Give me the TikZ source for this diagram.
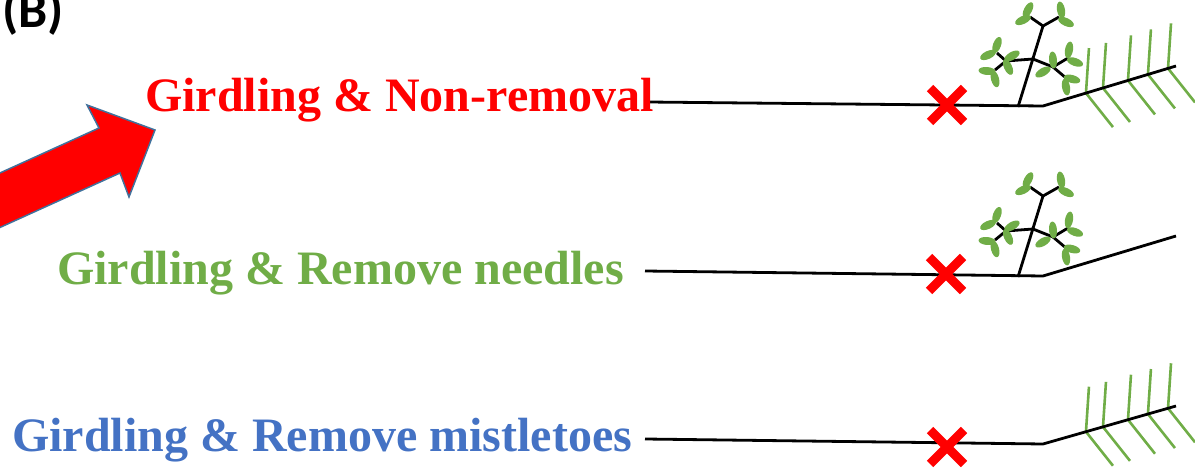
\documentclass[tikz,border=0pt]{standalone}
\usepackage{fontspec}
\setmainfont{Liberation Serif}
\newfontfamily\panelfont{Carlito}
\usetikzlibrary{calc}

\definecolor{leafgreen}{RGB}{112,173,71}
\definecolor{treatblue}{RGB}{68,114,196}
\definecolor{arrowedge}{RGB}{65,113,156}

\tikzset{
  branch/.style={black, line width=2.8pt},
  needle/.style={leafgreen, line width=2.6pt},
  leaf/.style={fill=leafgreen},
  girdle/.style={red, line width=9pt},
  treat/.style={anchor=base west, inner sep=0pt, font=\fontsize{48}{52}\selectfont\bfseries},
}

% mistletoe tuft standing on the branch at (1018,106)
\newcommand{\mistletoe}{%
  \draw[branch] (1018,107) -- (1043,26);
  \draw[branch] (1030,17) -- (1043,26) -- (1059,17);
  \draw[branch] (1006,61) -- (1033,59) -- (1053,67);
  \draw[branch] (997,53) -- (1006,61) -- (995,70);
  \draw[branch] (1068,58) -- (1053,67) -- (1066,78);
  \foreach \cx/\cy/\a in {1028/10/62, 1023/20/25, 1061/10/-80, 1066/22/-25,
                          997/45/70, 988/55/25, 1012/56/30, 1008/67/-65, 987/71/-5, 995/79/-75,
                          1053/60/-85, 1043/72/30, 1069/50/80, 1075/62/-20, 1072/79/-15, 1066/87/-80}
    \fill[leaf] (\cx,\cy) ellipse[x radius=8.5, y radius=4, rotate=\a];
}

% needles along the tip of the branch, J = bend, E = tip
\newcommand{\needles}{%
  \foreach \t in {0.323,0.451,0.639,0.789,0.94}
    \draw[needle] ($(J)!\t!(E)$) +(3,-45) -- +(0,0) -- +(27,34);
}

\begin{document}
\begin{tikzpicture}[x=1pt,y=-1pt]
\useasboundingbox (0,0) rectangle (1195,473);
\clip (0,0) rectangle (1195,473);

\node[anchor=base west, inner sep=0pt, font=\panelfont\fontsize{52}{56}\selectfont\bfseries] (panel) at (2,28) {(B)};

% big arrow into the first treatment
\draw[fill=red, draw=arrowedge, line width=1.5pt, line join=miter]
  (-10,177.5) -- (99,128) -- (87,105) -- (155,130) -- (129,197) -- (120,173) -- (-10,232) -- cycle;

% row 1: girdled, nothing removed
\coordinate (S) at (648,102);
\coordinate (J) at (1043,106);
\coordinate (E) at (1176,66);
\needles
\draw[branch] (S) -- (J) -- (E);
\mistletoe
\draw[girdle] (930,88) -- (964,122) (930,122) -- (964,88);
\node[treat, text=red] (lblRemain) at (145,111.7) {Girdling \& Non-removal};

% row 2: girdled, needles removed
\begin{scope}[shift={(0,170)}]
\coordinate (S) at (645,101);
\coordinate (J) at (1043,106);
\coordinate (E) at (1176,66);
\draw[branch] (S) -- (J) -- (E);
\mistletoe
\draw[girdle] (929,87) -- (963,121) (929,121) -- (963,87);
\end{scope}
\node[treat, text=leafgreen] (lblNeedle) at (57,285) {Girdling \& Remove needles};

% row 3: girdled, mistletoes removed
\begin{scope}[shift={(0,338)}]
\coordinate (S) at (645,101);
\coordinate (J) at (1043,106);
\coordinate (E) at (1176,68);
\needles
\draw[branch] (S) -- (J) -- (E);
\draw[girdle] (930,92) -- (964,126) (930,126) -- (964,92);
\end{scope}
\node[treat, text=treatblue] (lblMistle) at (12,451.7) {Girdling \& Remove mistletoes};

\end{tikzpicture}
\end{document}
